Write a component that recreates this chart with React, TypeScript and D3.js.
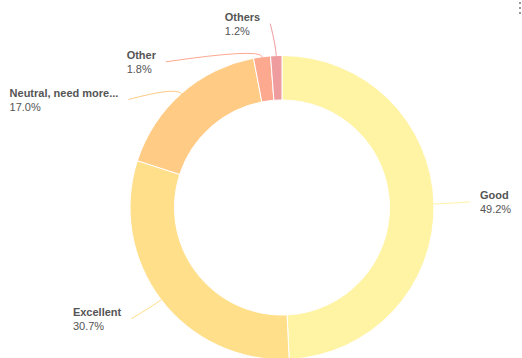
import React, { useEffect, useRef } from "react";
import * as d3 from "d3";

const categories = ["Good", "Excellent", "Neutral, need more...", "Other", "Others"];
const values = [49.2, 30.7, 17.0, 1.8, 1.2];
const colors = ["#FFF3A4", "#FFDF8A", "#FFCB85", "#FDA990", "#EF9C9F"];
// label anchor offsets (layout) relative to the slice's outer point
const labelOffsets: [number, number][] = [
  [36, -2],
  [-30, 19],
  [-53, 6],
  [-96, 5],
  [-6, -32],
];

const W = 522;
const H = 358;

export default function App() {
  const ref = useRef<SVGSVGElement>(null);

  useEffect(() => {
    const svg = d3.select(ref.current);
    svg.selectAll("*").remove();
    const cx = 282;
    const cy = 207.5;
    const outerR = 152;
    const innerR = 107.5;

    svg.append("rect").attr("width", W).attr("height", H).attr("fill", "#ffffff");

    const pie = d3
      .pie<number>()
      .sort(null)
      .value((d) => d)
      .startAngle(0)
      .endAngle(2 * Math.PI);
    const arcs = pie(values);
    const arc = d3.arc<d3.PieArcDatum<number>>().innerRadius(innerR).outerRadius(outerR);

    const g = svg.append("g").attr("transform", `translate(${cx},${cy})`);
    g.selectAll("path.slice")
      .data(arcs)
      .enter()
      .append("path")
      .attr("class", "slice")
      .attr("d", arc)
      .attr("fill", (_, i) => colors[i])
      .attr("stroke", "#ffffff")
      .attr("stroke-width", 1);

    const lab = svg.append("g");
    arcs.forEach((a, i) => {
      const mid = (a.startAngle + a.endAngle) / 2;
      const sx = Math.sin(mid);
      const sy = -Math.cos(mid);
      const p0: [number, number] = [cx + outerR * sx, cy + outerR * sy];
      const p1: [number, number] = [cx + (outerR + 9) * sx, cy + (outerR + 9) * sy];
      const anchor: [number, number] = [p0[0] + labelOffsets[i][0], p0[1] + labelOffsets[i][1]];
      lab
        .append("path")
        .attr(
          "d",
          `M${anchor[0]},${anchor[1]} Q${p1[0]},${p1[1]} ${p0[0]},${p0[1]}`
        )
        .attr("fill", "none")
        .attr("stroke", colors[i])
        .attr("stroke-width", 1);

      const right = anchor[0] > cx;
      const tx = right ? anchor[0] + 10 : anchor[0] - 10;
      const baseY = anchor[1] - 3;
      const t1 = lab
        .append("text")
        .attr("x", tx)
        .attr("y", baseY)
        .attr("text-anchor", right ? "start" : "end")
        .attr("font-family", "'Liberation Sans', Arial, sans-serif")
        .attr("font-size", 11)
        .attr("font-weight", "bold")
        .attr("fill", "#555555")
        .text(categories[i]);
      const node = t1.node() as SVGTextElement;
      const w = node.getComputedTextLength();
      const startX = right ? tx : tx - w;
      lab
        .append("text")
        .attr("x", startX)
        .attr("y", baseY + 14.5)
        .attr("font-family", "'Liberation Sans', Arial, sans-serif")
        .attr("font-size", 11)
        .attr("fill", "#555555")
        .text(values[i].toFixed(1) + "%");
    });

    // menu icon
    const menu = svg.append("g").attr("fill", "#999999");
    [2, 7, 12].forEach((y) => {
      menu.append("rect").attr("x", 519).attr("y", y).attr("width", 2).attr("height", 2);
    });
  }, []);

  return (
    <svg
      ref={ref}
      width={W}
      height={H}
      style={{ position: "absolute", left: 0, top: 0, display: "block" }}
    />
  );
}
